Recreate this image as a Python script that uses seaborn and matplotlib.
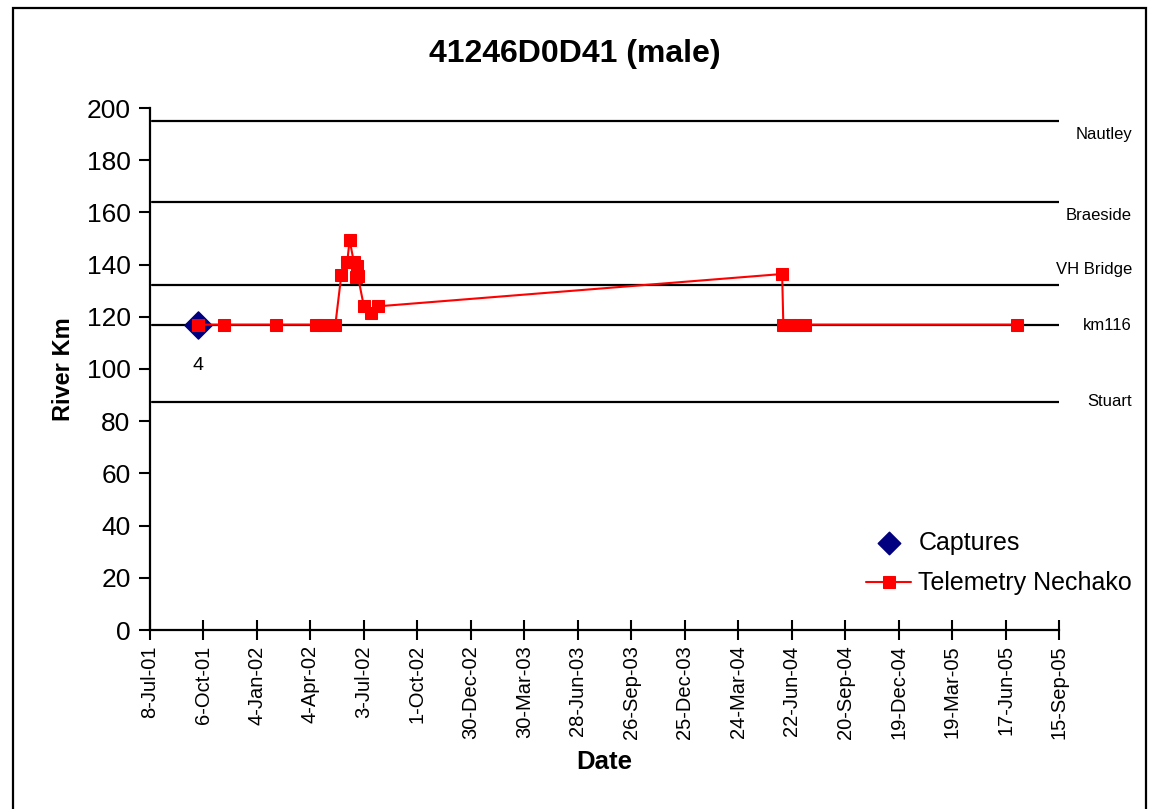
import matplotlib
matplotlib.use("Agg")
import matplotlib.pyplot as plt
import matplotlib.transforms as mtransforms
from matplotlib.patches import Rectangle
import seaborn as sns
import pandas as pd
import numpy as np

# ---- data ----
title = "41246D0D41 (male)"
capture_dates = ["2001-09-26"]
capture_km = [117]
capture_labels = ["4"]

telemetry_dates = [
    "2001-09-26", "2001-11-09", "2002-02-05", "2002-04-13", "2002-04-25",
    "2002-05-16", "2002-05-26", "2002-06-05", "2002-06-09", "2002-06-16",
    "2002-06-19", "2002-06-21", "2002-06-23", "2002-07-03", "2002-07-15",
    "2002-07-26", "2004-06-06", "2004-06-08", "2004-06-20", "2004-07-02",
    "2004-07-15", "2005-07-06",
]
telemetry_km = [
    117, 117, 117, 117, 117,
    117, 136, 141, 149.5, 141,
    135.3, 139.6, 135.5, 124, 121.3,
    124, 136.4, 117, 117, 117,
    117, 117,
]

site_names = ["Nautley", "Braeside", "VH Bridge", "km116", "Stuart"]
site_km = [195, 164, 132, 117, 87.5]
site_label_km = [190, 159, 138, 116.5, 87.7]

tick_start = "2001-07-08"
tick_step_days = 90
n_ticks = 18

# ---- figure ----
sns.set_style("white")
plt.rcParams["font.family"] = ["Liberation Sans", "DejaVu Sans"]
for k in ["text.color", "axes.labelcolor", "xtick.color", "ytick.color"]:
    plt.rcParams[k] = "black"

W, H = 1154, 809
fig = plt.figure(figsize=(W / 100, H / 100), dpi=100)
ax = fig.add_axes([150 / W, 1 - 630 / H, (1059 - 150) / W, (630 - 108) / H])

cap_df = pd.DataFrame({"date": pd.to_datetime(capture_dates), "km": capture_km})
tel_df = pd.DataFrame({"date": pd.to_datetime(telemetry_dates), "km": telemetry_km})

start = pd.Timestamp(tick_start)
ticks = [start + pd.Timedelta(days=tick_step_days * i) for i in range(n_ticks)]

# reference lines
for km in site_km:
    ax.plot([ticks[0] + pd.Timedelta(days=4), ticks[-1]], [km, km], color="black", lw=1.6, zorder=1)

sns.scatterplot(data=cap_df, x="date", y="km", ax=ax, marker="D", s=190,
                color="#000080", edgecolor="#000080", label="Captures", zorder=3)
sns.lineplot(data=tel_df, x="date", y="km", ax=ax, sort=False, color="#ff0000",
             marker="s", markersize=8, markeredgecolor="#ff0000", lw=1.5,
             label="Telemetry Nechako", zorder=4)

for d, k, t in zip(cap_df["date"], capture_km, capture_labels):
    ax.text(d, k - 15.5, t, ha="center", va="center", fontsize=14)

ax.set_xlim(ticks[0], ticks[-1])
ax.set_ylim(0, 200)
ax.set_xticks(ticks)
ax.set_xticklabels([f"{t.day}-{t.strftime('%b')}-{t.strftime('%y')}" for t in ticks],
                   rotation=90, fontsize=14.5)
ax.set_yticks(np.arange(0, 201, 20))
ax.tick_params(axis="y", labelsize=19, direction="out", length=8, width=1.5, left=True, pad=6)
ax.tick_params(axis="x", direction="inout", length=14, width=1.5, bottom=True, pad=4)
for s in ["top", "right"]:
    ax.spines[s].set_visible(False)
for s in ["left", "bottom"]:
    ax.spines[s].set_color("black")
    ax.spines[s].set_linewidth(1.6)

ax.set_xlabel("Date", fontsize=18.5, fontweight="bold", labelpad=8)
ax.set_ylabel("River Km", fontsize=17, fontweight="bold", labelpad=8)
fig.text(575 / W, 1 - 54 / H, title, ha="center", va="center", fontsize=23, fontweight="bold")

# site labels at right
trans = mtransforms.blended_transform_factory(fig.transFigure, ax.transData)
for name, yk in zip(site_names, site_label_km):
    ax.text(1132 / W, yk, name, transform=trans, ha="right", va="center", fontsize=12, clip_on=False)

leg = ax.legend(loc="upper left", bbox_to_anchor=(866 / W, 1 - 531 / H),
                bbox_transform=fig.transFigure, frameon=False, fontsize=18,
                handlelength=1.8, handletextpad=0.3, labelspacing=0.65, borderpad=0,
                borderaxespad=0)
leg.legend_handles[0].set_sizes([130])

# outer border
fig.patches.append(Rectangle((13 / W, -0.05), (1146 - 13) / W, 1 - 8 / H + 0.05,
                             transform=fig.transFigure, fill=False, edgecolor="black",
                             lw=1.6, zorder=0))

fig.savefig("out.png", dpi=100)
